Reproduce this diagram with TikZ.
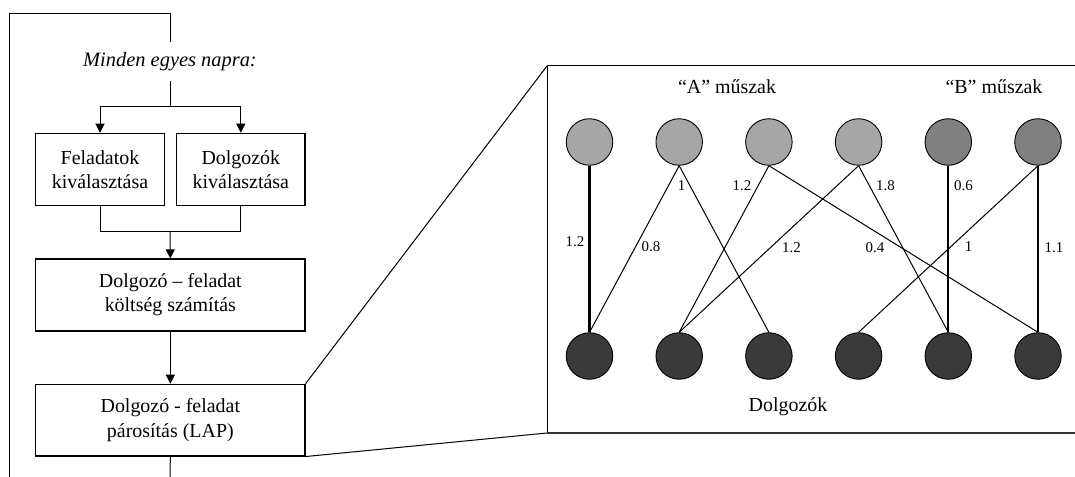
\documentclass[tikz,border=0pt]{standalone}
\usepackage{fontspec}
\setmainfont{Liberation Serif}
\usetikzlibrary{arrows.meta}
\definecolor{shiftA}{RGB}{166,166,166}
\definecolor{shiftB}{RGB}{128,128,128}
\definecolor{worker}{RGB}{58,58,58}
\begin{document}
\begin{tikzpicture}[x=1bp,y=-1bp,
  line width=1bp,
  box/.style={draw,line width=1.1bp,align=center,font=\fontsize{20}{24.3}\selectfont,inner sep=0},
  arr/.style={-{Triangle[length=9bp,width=9bp]}},
  vert/.style={circle,draw,line width=0.9bp,minimum size=46.5bp,inner sep=0},
  thinedge/.style={line width=1bp},
  thickedge/.style={line width=2.2bp},
  elabel/.style={font=\fontsize{15}{17}\selectfont,inner sep=0},
  heading/.style={font=\fontsize{20}{24}\selectfont,inner sep=0}]
\useasboundingbox (0,0) rectangle (1075,477);

% ---------- left flow chart ----------
\node[inner sep=0,minimum height=37.3bp] (title) at (170,61.4) {\fontsize{20.5}{24}\selectfont\itshape Minden egyes napra:};
\node[box,minimum width=128.6bp,minimum height=72.4bp] (feladat) at (100,169.5) {Feladatok\\kiválasztása};
\node[box,minimum width=128.3bp,minimum height=72.4bp] (dolgozo) at (240.85,169.5) {Dolgozók\\kiválasztása};
\node[box,minimum width=269.3bp,minimum height=72bp] (koltseg) at (170.35,295) {Dolgozó – feladat\\költség számítás};
\node[box,minimum width=269.3bp,minimum height=71.7bp] (lap) at (170.35,420.15) {Dolgozó - feladat\\párosítás (LAP)};

\coordinate (split) at (170,107);
\coordinate (merge) at (170,231.7);
\coordinate (loopend) at (170,478);
\coordinate (loopstart) at (9,478);
\coordinate (loopcorner) at (170,14);

\draw (title.south) -- (split);
\draw[arr] (split) -| (feladat.north);
\draw[arr] (split) -| (dolgozo.north);
\draw (feladat.south) |- (merge);
\draw (dolgozo.south) |- (merge);
\draw[arr] (merge) -- (koltseg.north);
\draw[arr] (koltseg.south) -- (lap.north);
\draw (lap.south) -- (loopend);
\draw (loopstart) |- (loopcorner) -- (title.north);

% ---------- zoom panel ----------
\coordinate (pTR) at (1077,66);
\coordinate (pTL) at (547,66);
\coordinate (pBL) at (547,433);
\coordinate (pBR) at (1077,433);
\draw (pTR) -- (pTL) -- (pBL);
\draw[line width=1.6bp,black!80] (pBL) -- (pBR);
\draw (lap.north east) -- (pTL);
\draw (lap.south east) -- (pBL);

\node[heading] (hA) at (727,87) {“A” műszak};
\node[heading] (hB) at (994,87) {“B” műszak};
\node[heading] (hW) at (788,407) {Dolgozók};

% circles
\foreach \i/\x in {1/589.5,2/679.2,3/768.9,4/858.6}
  \node[vert,fill=shiftA] (t\i) at (\x,142) {};
\foreach \i/\x in {5/948.3,6/1038}
  \node[vert,fill=shiftB] (t\i) at (\x,142) {};
\foreach \i/\x in {1/589.5,2/679.2,3/768.9,4/858.6,5/948.3,6/1038}
  \node[vert,fill=worker] (b\i) at (\x,356) {};

% edges
\draw[thickedge] (t1.south) -- (b1.north);
\draw[thinedge] (t2.south) -- (b1.north);
\draw[thinedge] (t2.south) -- (b3.north);
\draw[thinedge] (t3.south) -- (b2.north);
\draw[thinedge] (t3.south) -- (b6.north);
\draw[thinedge] (t4.south) -- (b2.north);
\draw[thinedge] (t4.south) -- (b5.north);
\draw[thickedge] (t5.south) -- (b5.north);
\draw[thinedge] (t6.south) -- (b4.north);
\draw[thickedge] (t6.south) -- (b6.north);

% edge labels
\node[elabel] (l1) at (575,241.5) {1.2};
\node[elabel] (l2) at (651,247) {0.8};
\node[elabel] (l3) at (681.7,186) {1};
\node[elabel] (l4) at (742,186) {1.2};
\node[elabel] (l5) at (791.5,248) {1.2};
\node[elabel] (l6) at (885.5,185.5) {1.8};
\node[elabel] (l7) at (875,248) {0.4};
\node[elabel] (l8) at (963.5,185.5) {0.6};
\node[elabel] (l9) at (968.5,246.5) {1};
\node[elabel] (l10) at (1054,248) {1.1};
\end{tikzpicture}
\end{document}
